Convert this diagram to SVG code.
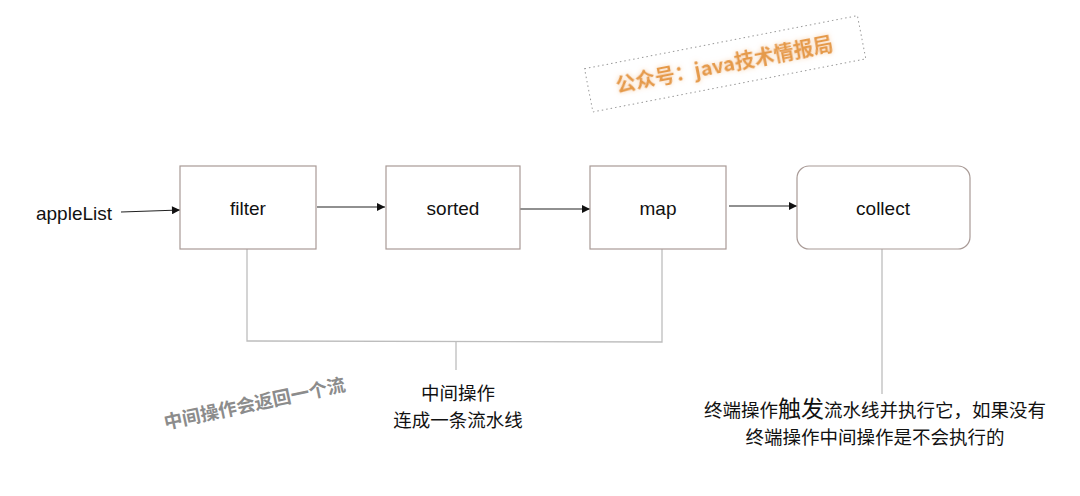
<svg xmlns="http://www.w3.org/2000/svg" width="1080" height="496" viewBox="0 0 1080 496">
<defs>
<style>
.box{fill:#fff;stroke:#a89a96;stroke-width:1.2}
.lbl{font-family:"Liberation Sans","Noto Sans CJK SC",sans-serif;font-size:19px;fill:#111;text-anchor:middle}
.cjk{font-family:"Noto Sans CJK SC",sans-serif;font-size:18.5px;fill:#111;text-anchor:middle}
.arr{stroke:#222;stroke-width:1.1;fill:none;marker-end:url(#ah)}
.gl{stroke:#bdbdbd;stroke-width:1.3;fill:none}
</style>
<marker id="ah" viewBox="0 0 10 10" refX="10" refY="5" markerWidth="10" markerHeight="8" markerUnits="userSpaceOnUse" orient="auto">
<path d="M0,0 L10,5 L0,10 z" fill="#111"/>
</marker>
<filter id="glow" x="-20%" y="-50%" width="140%" height="200%">
<feGaussianBlur in="SourceAlpha" stdDeviation="2.5" result="b"/>
<feFlood flood-color="#f6c79a" flood-opacity="0.8"/>
<feComposite in2="b" operator="in" result="g"/>
<feMerge><feMergeNode in="g"/><feMergeNode in="SourceGraphic"/></feMerge>
</filter>
</defs>
<rect width="1080" height="496" fill="#fff"/>

<g id="watermark" transform="rotate(-11 724 63)">
<rect x="586" y="42" width="278" height="44" fill="none" stroke="#999" stroke-width="1" stroke-dasharray="1.5 3"/>
<text x="724" y="72" font-family="'Noto Sans CJK SC',sans-serif" font-size="20" font-weight="bold" fill="#e59a4a" text-anchor="middle" filter="url(#glow)">公众号：java技术情报局</text>
</g>

<g id="connectors">
<line class="arr" x1="121" y1="212" x2="180" y2="210"/>
<line class="arr" x1="317" y1="207" x2="385" y2="207"/>
<line class="arr" x1="515" y1="209" x2="590" y2="209"/>
<line class="arr" x1="729" y1="206" x2="797" y2="206"/>
<polyline class="gl" points="247,249 247,341 662,342 662,249"/>
<line class="gl" x1="456" y1="342" x2="456" y2="370"/>
<line class="gl" x1="882" y1="249" x2="882" y2="394"/>
</g>

<g id="appleList"><text class="lbl" x="74" y="220">appleList</text></g>
<g id="filter"><rect class="box" x="180" y="166" width="136" height="83"/><text class="lbl" x="248" y="215">filter</text></g>
<g id="sorted"><rect class="box" x="386" y="166" width="134" height="83"/><text class="lbl" x="453" y="215">sorted</text></g>
<g id="map"><rect class="box" x="590" y="166" width="136" height="83"/><text class="lbl" x="658" y="215">map</text></g>
<g id="collect"><rect class="box" x="797" y="166" width="173" height="83" rx="12"/><text class="lbl" x="883" y="215">collect</text></g>

<g id="note-intermediate">
<text class="cjk" x="458" y="400">中间操作</text>
<text class="cjk" x="458" y="427">连成一条流水线</text>
</g>

<g id="note-return">
<text x="256" y="410" transform="rotate(-12 256 410)" font-family="'Noto Sans CJK SC',sans-serif" font-size="18.5" font-weight="bold" fill="#8c8c8c" text-anchor="middle">中间操作会返回一个流</text>
</g>

<g id="note-terminal">
<text class="cjk" x="875" y="417">终端操作<tspan font-size="23">触发</tspan>流水线并执行它，如果没有</text>
<text class="cjk" x="875" y="444">终端操作中间操作是不会执行的</text>
</g>
</svg>
